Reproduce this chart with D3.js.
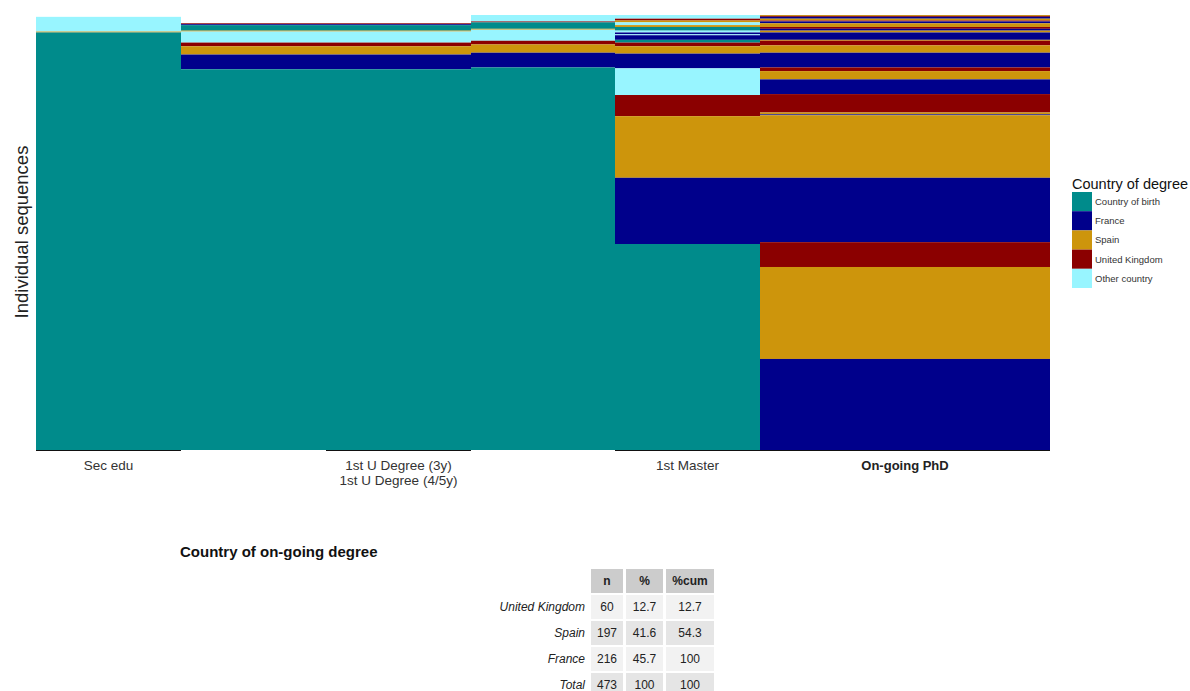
<!DOCTYPE html>
<meta charset="utf-8">
<style>
body { margin: 0; background: #fff; }
svg { font-family: "Liberation Sans", Arial, sans-serif; }
.xlab { font-size: 13.5px; fill: #333; }
.ytitle { font-size: 18.5px; fill: #222; }
.legTitle { font-size: 14.5px; fill: #111; }
.legLab { font-size: 9.5px; fill: #333; }
.tabTitle { font-size: 15px; font-weight: bold; fill: #111; }
.cell { font-size: 12px; fill: #222; }
</style>
<svg width="1190" height="691"></svg>
<script src="https://d3js.org/d3.v7.min.js"></script>
<script>
// states of the sequences
var states = ["B", "F", "S", "U", "O"];
var stateNames = ["Country of birth", "France", "Spain", "United Kingdom", "Other country"];
var stateColors = ["#008B8B", "#00008B", "#CD950C", "#8B0000", "#98F5FF"];

// run lengths (rows from top), "-" = missing
var seqSecEdu = [["-",2],["O",16],["S",1],["B",454]];
var seqUDegree = [["-",9],["U",1],["F",1],["B",6],["S",1],["O",12],["U",4],["S",9],["F",16],["B",414]];
var seqPos4 = [["O",7],["U",1],["B",7],["S",1],["O",12],["U",4],["S",9],["F",16],["B",416]];
var seqMaster = [["O",4],["U",2],["S",2],["O",3],["S",2],["B",4],["O",2],["F",2],["O",1],["F",5],["B",3],["U",4],["S",8],["F",16],["O",29],["U",23],["S",67],["F",72],["B",224]];
var seqPhD = [["S",1],["U",1],["F",2],["S",2],["U",1],["F",2],["S",4],["U",2],["F",2],["S",2],["F",8],["S",1],["U",5],["S",8],["F",16],["U",4],["S",9],["F",16],["U",20],["S",2],["F",1],["S",68],["F",70],["U",27],["S",100],["F",99]];

var columns = [seqSecEdu, seqUDegree, seqUDegree, seqPos4, seqMaster, seqPhD, seqPhD];
var nSeq = 473;

// x tick labels (span of positions)
var tickSpans = [[0,1],[2,3],[4,5],[5,7]];
var tickLabels = [["Sec edu"], ["1st U Degree (3y)", "1st U Degree (4/5y)"], ["1st Master"], ["On-going PhD"]];
var axisSpans = [[0,1],[2,3],[4,7]];

// table
var tabRows = ["United Kingdom", "Spain", "France", "Total"];
var tabN = ["60", "197", "216", "473"];
var tabPct = ["12.7", "41.6", "45.7", "100"];
var tabCum = ["12.7", "54.3", "100", "100"];
var tabHead = ["n", "%", "%cum"];

var svg = d3.select("svg");
var x = d3.scaleLinear().domain([0, 7]).range([36, 1050]).interpolate(d3.interpolateRound);
var y = d3.scaleLinear().domain([0, nSeq]).range([15, 450]);
var color = d3.scaleOrdinal().domain(states).range(stateColors);

var plot = svg.append("g");
columns.forEach(function(col, i) {
  var start = 0;
  var segs = col.map(function(d) {
    var s = {state: d[0], y0: start, y1: start + d[1]};
    start += d[1];
    return s;
  });
  plot.selectAll(null)
    .data(segs.filter(function(d) { return d.state !== "-"; }))
    .enter().append("rect")
      .attr("x", x(i))
      .attr("width", x(i + 1) - x(i))
      .attr("y", function(d) { return y(d.y0); })
      .attr("height", function(d) { return y(d.y1) - y(d.y0); })
      .attr("fill", function(d) { return color(d.state); });
});

// axis segments
axisSpans.forEach(function(s) {
  svg.append("line")
    .attr("x1", x(s[0])).attr("x2", x(s[1]))
    .attr("y1", 450.5).attr("y2", 450.5)
    .attr("stroke", "#111").attr("stroke-width", 1.2);
});

tickSpans.forEach(function(s, i) {
  var t = svg.append("text").attr("class", "xlab")
    .attr("text-anchor", "middle")
    .attr("x", (x(s[0]) + x(s[1])) / 2)
    .attr("y", 470);
  if (i === 3) t.attr("font-weight", "bold").style("fill", "#222").style("font-size", "13px");
  tickLabels[i].forEach(function(l, j) {
    t.append("tspan").attr("x", (x(s[0]) + x(s[1])) / 2).attr("dy", j ? 15 : 0).text(l);
  });
});

svg.append("text").attr("class", "ytitle")
  .attr("transform", "translate(28,232) rotate(-90)")
  .attr("text-anchor", "middle")
  .text("Individual sequences");

// legend
var leg = svg.append("g").attr("transform", "translate(1072,0)");
leg.append("text").attr("class", "legTitle").attr("x", 0).attr("y", 189).text("Country of degree");
stateNames.forEach(function(n, i) {
  leg.append("rect").attr("x", 0).attr("y", 192 + i * 19.2).attr("width", 20).attr("height", 19.2)
    .attr("fill", stateColors[i]);
  leg.append("text").attr("class", "legLab").attr("x", 23).attr("y", 192 + i * 19.2 + 13).text(n);
});

// table
svg.append("text").attr("class", "tabTitle").attr("x", 180).attr("y", 557).text("Country of on-going degree");
var colX = [591, 626, 666], colW = [32, 37, 48];
var rowY0 = 569, rowH = 24, rowStep = 26;
var coreFill = ["#f2f2f2", "#e5e5e5"];
tabHead.forEach(function(h, j) {
  svg.append("rect").attr("x", colX[j]).attr("y", rowY0).attr("width", colW[j]).attr("height", rowH).attr("fill", "#cccccc");
  svg.append("text").attr("class", "cell").attr("font-weight", "bold")
    .attr("x", colX[j] + colW[j] / 2).attr("y", rowY0 + rowH / 2 + 4).attr("text-anchor", "middle").text(h);
});
tabRows.forEach(function(r, i) {
  var yy = rowY0 + (i + 1) * rowStep;
  svg.append("text").attr("class", "cell").attr("font-style", "italic")
    .attr("x", 585).attr("y", yy + rowH / 2 + 4).attr("text-anchor", "end").text(r);
  [tabN[i], tabPct[i], tabCum[i]].forEach(function(v, j) {
    svg.append("rect").attr("x", colX[j]).attr("y", yy).attr("width", colW[j]).attr("height", rowH).attr("fill", coreFill[i % 2]);
    svg.append("text").attr("class", "cell")
      .attr("x", colX[j] + colW[j] / 2).attr("y", yy + rowH / 2 + 4).attr("text-anchor", "middle").text(v);
  });
});
</script>
